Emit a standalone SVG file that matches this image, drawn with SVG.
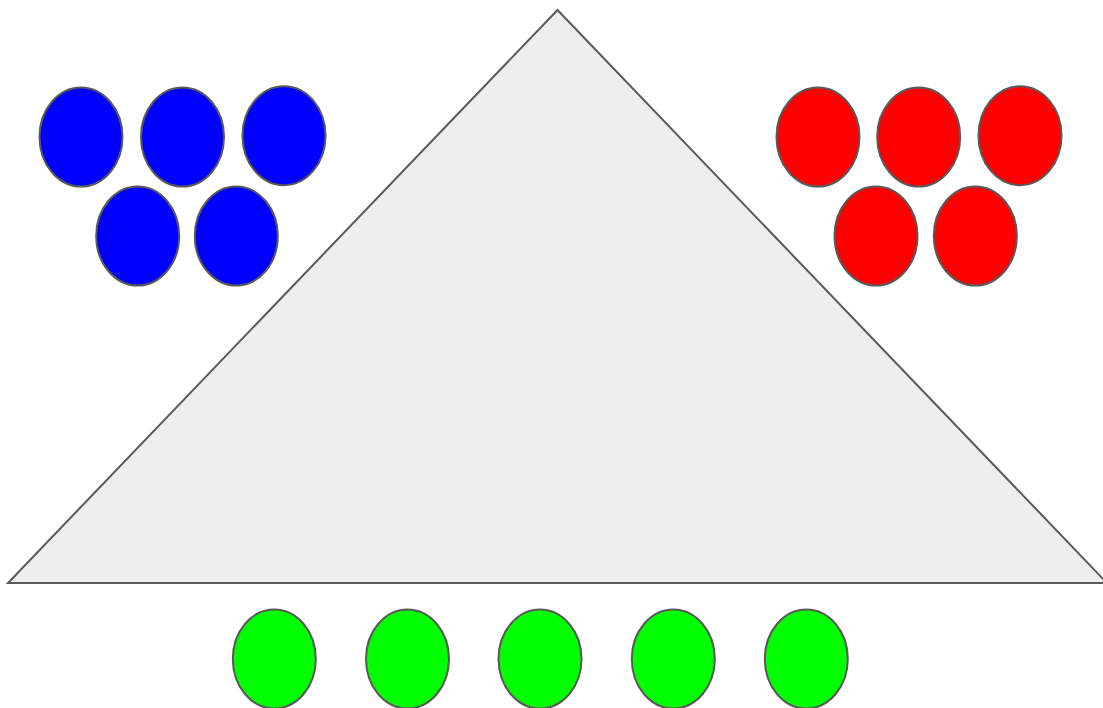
<svg xmlns="http://www.w3.org/2000/svg" width="1103" height="708" viewBox="0 0 1103 708">
<style>
.s{stroke:#595959;stroke-width:2}
.b{fill:#0000ff}
.r{fill:#ff0000}
.g{fill:#00ff00}
</style>
<rect width="1103" height="708" fill="#ffffff"/>
<g id="triangle"><polygon class="s" fill="#eeeeee" points="557.5,10 8,583 1107,583"/></g>
<g id="blue1"><ellipse class="s b" cx="81" cy="137" rx="41.5" ry="49.5"/></g>
<g id="blue2"><ellipse class="s b" cx="182.5" cy="137" rx="41.5" ry="49.5"/></g>
<g id="blue3"><ellipse class="s b" cx="284" cy="135.7" rx="41.5" ry="49.5"/></g>
<g id="blue4"><ellipse class="s b" cx="137.7" cy="236" rx="41.5" ry="49.5"/></g>
<g id="blue5"><ellipse class="s b" cx="236.3" cy="236" rx="41.5" ry="49.5"/></g>
<g id="red1"><ellipse class="s r" cx="818" cy="137" rx="41.5" ry="49.5"/></g>
<g id="red2"><ellipse class="s r" cx="918.7" cy="137" rx="41.5" ry="49.5"/></g>
<g id="red3"><ellipse class="s r" cx="1020" cy="135.7" rx="41.5" ry="49.5"/></g>
<g id="red4"><ellipse class="s r" cx="876" cy="236" rx="41.5" ry="49.5"/></g>
<g id="red5"><ellipse class="s r" cx="975.3" cy="236" rx="41.5" ry="49.5"/></g>
<g id="green1"><ellipse class="s g" cx="274.3" cy="659" rx="41.5" ry="49.5"/></g>
<g id="green2"><ellipse class="s g" cx="407.5" cy="659" rx="41.5" ry="49.5"/></g>
<g id="green3"><ellipse class="s g" cx="540" cy="659" rx="41.5" ry="49.5"/></g>
<g id="green4"><ellipse class="s g" cx="673.3" cy="659" rx="41.5" ry="49.5"/></g>
<g id="green5"><ellipse class="s g" cx="806.3" cy="659" rx="41.5" ry="49.5"/></g>
<g id="connectors"></g>
</svg>
